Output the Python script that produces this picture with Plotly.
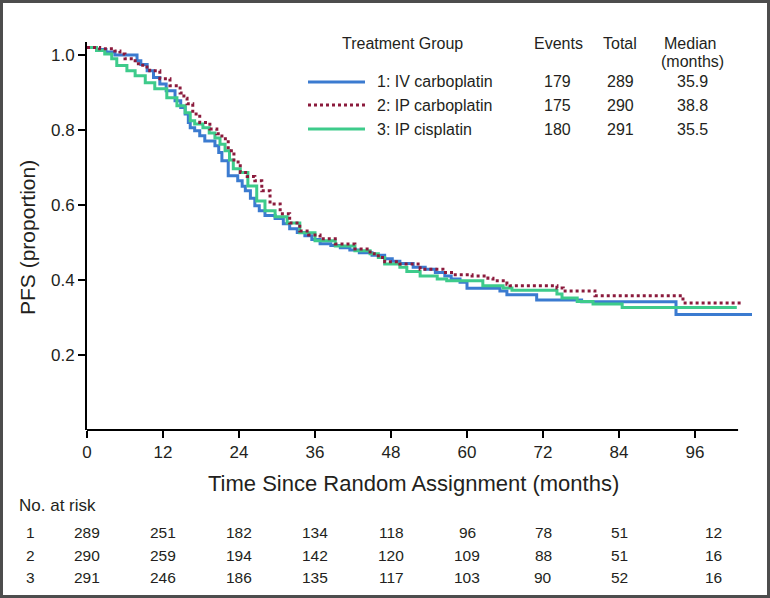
import plotly.graph_objects as go

# ---------------- data ----------------
groups = ["1: IV carboplatin", "2: IP carboplatin", "3: IP cisplatin"]
events = [179, 175, 180]
totals = [289, 290, 291]
medians = ["35.9", "38.8", "35.5"]

t_iv_carbo = [0, 1.5, 3, 4.4, 7.9, 8.5, 9.5, 10.5, 11.5, 12.5, 13.9, 14.8, 15.5, 16.0, 16.3, 17.0,
              17.8, 18.6, 20.2, 20.8, 21.3, 22.3, 23.8, 24.5, 25.0, 25.8, 26.5, 27.2, 28.1, 29.7,
              31.0, 32.0, 33.2, 34.4, 35.5, 36.8, 38.5, 40.0, 41.5, 43.0, 45.0, 47.0, 48.2, 49.4,
              51.5, 53.4, 55.0, 56.5, 57.5, 58.9, 60.0, 65.2, 66.3, 71.0, 78.1, 93.0, 105.0]
s_iv_carbo = [1.02, 1.015, 1.008, 1.0, 0.985, 0.975, 0.958, 0.94, 0.923, 0.905, 0.878, 0.86, 0.843,
              0.82, 0.806, 0.798, 0.785, 0.771, 0.758, 0.74, 0.718, 0.678, 0.665, 0.65, 0.638, 0.618,
              0.598, 0.585, 0.572, 0.564, 0.55, 0.537, 0.527, 0.518, 0.508, 0.497, 0.492, 0.486,
              0.48, 0.473, 0.466, 0.457, 0.45, 0.444, 0.434, 0.429, 0.42, 0.411, 0.403, 0.394,
              0.378, 0.371, 0.361, 0.347, 0.342, 0.308, 0.308]

t_ip_carbo = [0, 2.0, 4.4, 5.2, 6.0, 7.6, 8.8, 9.9, 11.5, 13.1, 14.7, 15.3, 15.8, 16.7, 17.8, 19.4,
              20.5, 21.3, 22.3, 23.2, 24.2, 25.3, 26.5, 27.6, 28.9, 30.5, 32.0, 33.6, 35.0, 36.8,
              39.2, 42.3, 44.7, 46.0, 47.0, 49.4, 52.6, 56.2, 57.8, 60.8, 63.3, 64.1, 66.3, 66.8,
              74.2, 75.2, 80.2, 94.1, 103.6]
s_ip_carbo = [1.02, 1.017, 1.011, 1.003, 0.99, 0.977, 0.968, 0.958, 0.937, 0.918, 0.899, 0.885,
              0.87, 0.843, 0.82, 0.803, 0.79, 0.777, 0.745, 0.715, 0.687, 0.676, 0.665, 0.638,
              0.603, 0.577, 0.552, 0.531, 0.52, 0.51, 0.496, 0.483, 0.47, 0.46, 0.449, 0.443,
              0.429, 0.42, 0.414, 0.411, 0.405, 0.398, 0.389, 0.385, 0.379, 0.371, 0.358, 0.339,
              0.339]

t_ip_cis = [0, 1.5, 2.8, 3.9, 4.7, 6.3, 7.6, 9.2, 10.7, 12.6, 14.2, 15.5, 16.3, 17.0, 18.3, 19.3,
            20.2, 21.0, 21.8, 22.5, 23.1, 24.2, 25.4, 26.8, 28.1, 29.7, 31.6, 33.6, 36.0, 39.2,
            42.3, 44.7, 46.0, 47.0, 49.4, 50.5, 52.6, 55.3, 56.8, 62.5, 65.7, 67.1, 74.2, 75.0,
            77.4, 79.9, 84.5, 102.6]
s_ip_cis = [1.02, 1.012, 1.003, 0.99, 0.972, 0.958, 0.945, 0.926, 0.91, 0.886, 0.865, 0.846, 0.825,
            0.816, 0.806, 0.792, 0.779, 0.762, 0.745, 0.72, 0.697, 0.687, 0.651, 0.611, 0.585,
            0.569, 0.552, 0.526, 0.505, 0.491, 0.478, 0.47, 0.46, 0.443, 0.434, 0.423, 0.411,
            0.403, 0.398, 0.385, 0.379, 0.373, 0.363, 0.352, 0.343, 0.336, 0.327, 0.327]

x_ticks = [0, 12, 24, 36, 48, 60, 72, 84, 96]
y_ticks = [0.2, 0.4, 0.6, 0.8, 1.0]

risk_times = [0, 12, 24, 36, 48, 60, 72, 84, 96]
risk_labels = ["1", "2", "3"]
at_risk_1 = [289, 251, 182, 134, 118, 96, 78, 51, 12]
at_risk_2 = [290, 259, 194, 142, 120, 109, 88, 51, 16]
at_risk_3 = [291, 246, 186, 135, 117, 103, 90, 52, 16]

# ---------------- styling / layout ----------------
W, H = 770, 598
L, T, PW, PH = 87, 42, 666, 388
X_MAX = PW / (76 / 12)
Y_MAX = PH / 375.0

FONT = "Liberation Sans, Arial, Helvetica, sans-serif"
TXT = "#231f20"
colors = ["#3b7bd0", "#8b1a3c", "#3ecb8b"]
dashes = ["solid", "dot", "solid"]
widths = [3, 3, 3]


def pxx(x):
    return (x - L) / PW


def pxy(y):
    return (T + PH - y) / PH


fig = go.Figure()
series = [(t_iv_carbo, s_iv_carbo), (t_ip_cis, s_ip_cis), (t_ip_carbo, s_ip_carbo)]
order = [0, 2, 1]
for (tt, ss), i in zip(series, order):
    fig.add_trace(go.Scatter(x=tt, y=ss, mode="lines", line_shape="hv",
                             line=dict(color=colors[i], width=widths[i], dash=dashes[i]),
                             name=groups[i], showlegend=False, hoverinfo="skip"))

shapes = []
annotations = []

# x axis line (ends before data end)
shapes.append(dict(type="line", xref="x", yref="paper", x0=0, x1=102.8, y0=0, y1=0,
                   line=dict(color="black", width=2), layer="above"))
# outer frame
shapes.append(dict(type="rect", xref="paper", yref="paper", x0=pxx(1.5), x1=pxx(768.5),
                   y0=pxy(596.5), y1=pxy(1.5), line=dict(color="#4d4d4d", width=3)))

# legend table
leg_rows_y = [82, 105, 129]
for i in range(3):
    shapes.append(dict(type="line", xref="paper", yref="paper", x0=pxx(308), x1=pxx(365),
                       y0=pxy(leg_rows_y[i]), y1=pxy(leg_rows_y[i]),
                       line=dict(color=colors[i], width=widths[i], dash=dashes[i])))
    annotations.append(dict(text=groups[i], x=pxx(375), y=pxy(leg_rows_y[i]), xanchor="left",
                            yanchor="middle"))
    annotations.append(dict(text=str(events[i]), x=pxx(557), y=pxy(leg_rows_y[i]),
                            xanchor="center", yanchor="middle"))
    annotations.append(dict(text=str(totals[i]), x=pxx(620), y=pxy(leg_rows_y[i]),
                            xanchor="center", yanchor="middle"))
    annotations.append(dict(text=medians[i], x=pxx(692), y=pxy(leg_rows_y[i]),
                            xanchor="center", yanchor="middle"))
annotations.append(dict(text="Treatment Group", x=pxx(340), y=pxy(43), xanchor="left",
                        yanchor="middle"))
annotations.append(dict(text="Events", x=pxx(558), y=pxy(43), xanchor="center", yanchor="middle"))
annotations.append(dict(text="Total", x=pxx(620), y=pxy(43), xanchor="center", yanchor="middle"))
annotations.append(dict(text="Median", x=pxx(690), y=pxy(43), xanchor="center", yanchor="middle"))
annotations.append(dict(text="(months)", x=pxx(692), y=pxy(61), xanchor="center",
                        yanchor="middle"))

# axis titles
annotations.append(dict(text="Time Since Random Assignment (months)", x=pxx(413), y=pxy(483),
                        xanchor="center", yanchor="middle", font=dict(size=22)))
annotations.append(dict(text="PFS (proportion)", x=pxx(27), y=pxy(238), xanchor="center",
                        yanchor="middle", textangle=-90, font=dict(size=21)))

# risk table
annotations.append(dict(text="No. at risk", x=pxx(17), y=pxy(505), xanchor="left",
                        yanchor="middle", font=dict(size=17)))
risk_rows = [at_risk_1, at_risk_2, at_risk_3]
risk_y = [532, 555, 577]
for r in range(3):
    annotations.append(dict(text=risk_labels[r], x=pxx(31), y=pxy(risk_y[r]), xanchor="center",
                            yanchor="middle", font=dict(size=15.5)))
    for j, t in enumerate(risk_times):
        annotations.append(dict(text=str(risk_rows[r][j]), xref="x", x=t,
                                xshift=18 if j == len(risk_times) - 1 else 0,
                                y=pxy(risk_y[r]), xanchor="center", yanchor="middle",
                                font=dict(size=15.5)))

for a in annotations:
    a.setdefault("xref", "paper")
    a.setdefault("yref", "paper")
    a.setdefault("showarrow", False)
    f = a.setdefault("font", {})
    f.setdefault("size", 16)
    f["family"] = FONT
    f["color"] = TXT

fig.update_layout(
    width=W, height=H,
    margin=dict(l=L, r=W - L - PW, t=T, b=H - T - PH, pad=0),
    paper_bgcolor="white", plot_bgcolor="white",
    font=dict(family=FONT, color=TXT, size=17),
    showlegend=False,
    shapes=shapes, annotations=annotations,
    xaxis=dict(range=[0, X_MAX], tickvals=x_ticks, ticks="outside", ticklen=7, tickwidth=2,
               tickcolor="black", showline=False, showgrid=False, zeroline=False,
               tickfont=dict(size=17, family=FONT, color=TXT), fixedrange=True),
    yaxis=dict(range=[0, Y_MAX], tickvals=y_ticks, tickformat=".1f", ticks="outside", ticklen=7,
               tickwidth=2, tickcolor="black", showline=True, linecolor="black", linewidth=2,
               showgrid=False, zeroline=False, tickfont=dict(size=17, family=FONT, color=TXT),
               fixedrange=True),
)

fig.write_html("out.html", config={"displayModeBar": False},
               post_script="document.body.style.margin='0';document.body.style.padding='0';"
                           "document.body.style.overflow='hidden';")
